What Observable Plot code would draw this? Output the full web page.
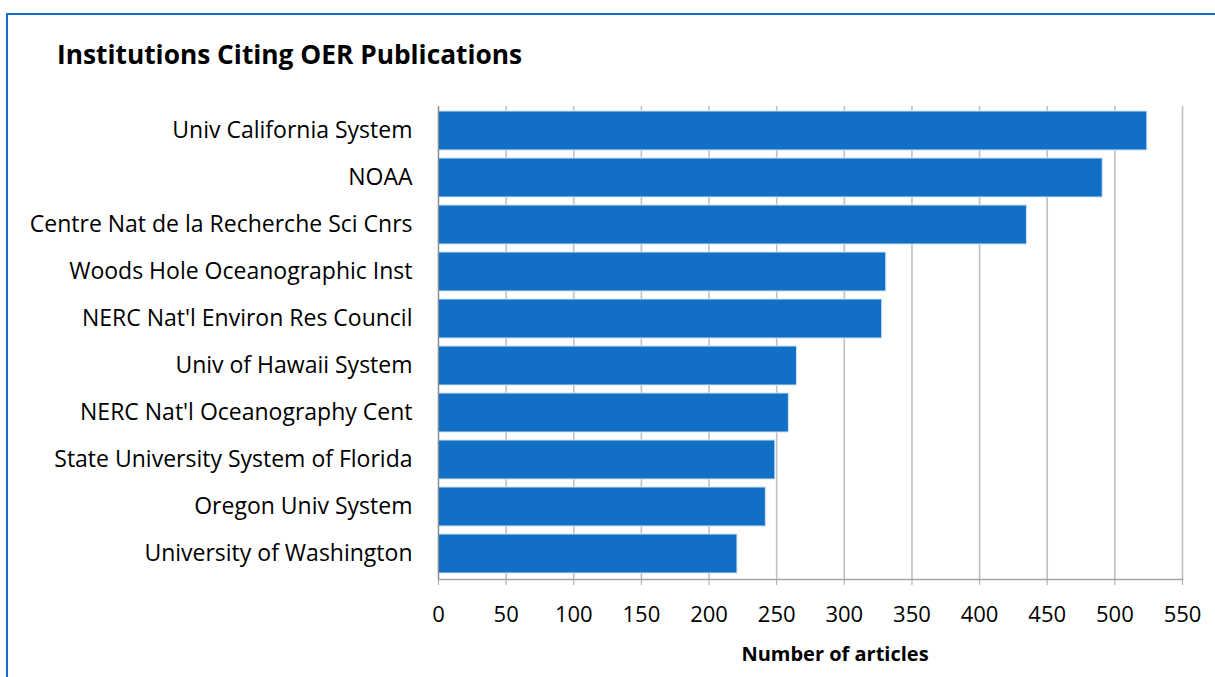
<!DOCTYPE html>
<html>
<head>
<meta charset="utf-8">
<script src="https://cdn.jsdelivr.net/npm/d3@7"></script>
<script src="https://cdn.jsdelivr.net/npm/@observablehq/plot@0.6"></script>
<style>
  body { margin: 0; background: #fff; }
  #wrap { position: relative; width: 1215px; height: 677px; overflow: hidden; font-family: "Open Sans", sans-serif; }
  #border { position: absolute; left: 6px; top: 13px; width: 1400px; height: 900px; border-top: 2.5px solid #1070c8; border-left: 2.5px solid #1070c8; }
  #title { position: absolute; left: 57px; top: 41px; font-size: 26.3px; line-height: 26px; font-weight: 700; color: #000; white-space: nowrap; }
  #chart { position: absolute; left: 0; top: 90px; }
  #xlabel { position: absolute; left: 0; width: 1670px; text-align: center; top: 644px; font-size: 20px; line-height: 20px; font-weight: 700; color: #000; white-space: nowrap; }
</style>
</head>
<body>
<div id="wrap">
  <div id="border"></div>
  <div id="title">Institutions Citing OER Publications</div>
  <div id="chart"></div>
  <div id="xlabel">Number of articles</div>
</div>
<script>
const categories = [
  "Univ California System",
  "NOAA",
  "Centre Nat de la Recherche Sci Cnrs",
  "Woods Hole Oceanographic Inst",
  "NERC Nat'l Environ Res Council",
  "Univ of Hawaii System",
  "NERC Nat'l Oceanography Cent",
  "State University System of Florida",
  "Oregon Univ System",
  "University of Washington"
];
const values = [524, 491, 435, 331, 328, 265, 259, 249, 242, 221];
const xTicks = [0, 50, 100, 150, 200, 250, 300, 350, 400, 450, 500, 550];

const data = categories.map((c, i) => ({institution: c, articles: values[i]}));

const chart = Plot.plot({
  width: 1215,
  height: 550,
  marginLeft: 438,
  marginRight: 33,
  marginTop: 16,
  marginBottom: 61,
  style: { fontFamily: "'Open Sans', sans-serif", background: "transparent", overflow: "visible" },
  x: { domain: [0, 550], label: null },
  y: { domain: categories, paddingInner: 0.17, paddingOuter: 0.075, label: null },
  marks: [
    Plot.gridX(xTicks, { stroke: "#c0c0c0", strokeOpacity: 1, strokeWidth: 1.6 }),
    Plot.barX(data, { x: "articles", y: "institution", fill: "#1170c6", stroke: "#cfe1f4", strokeWidth: 1 }),
    Plot.ruleX([0], { stroke: "#8c8c8c", strokeWidth: 1.2 }),
    Plot.frame({ anchor: "bottom", stroke: "#a6a6a6", strokeWidth: 1.6 }),
    Plot.axisX({ ticks: xTicks, tickSize: 6, tickPadding: 21, stroke: "#a6a6a6", fill: "#000", fontSize: 22, label: null, tickFormat: d => String(d) }),
    Plot.axisY({ tickSize: 0, tickPadding: 26, fill: "#000", fontSize: 23, label: null })
  ]
});
document.getElementById("chart").appendChild(chart);
</script>
</body>
</html>
